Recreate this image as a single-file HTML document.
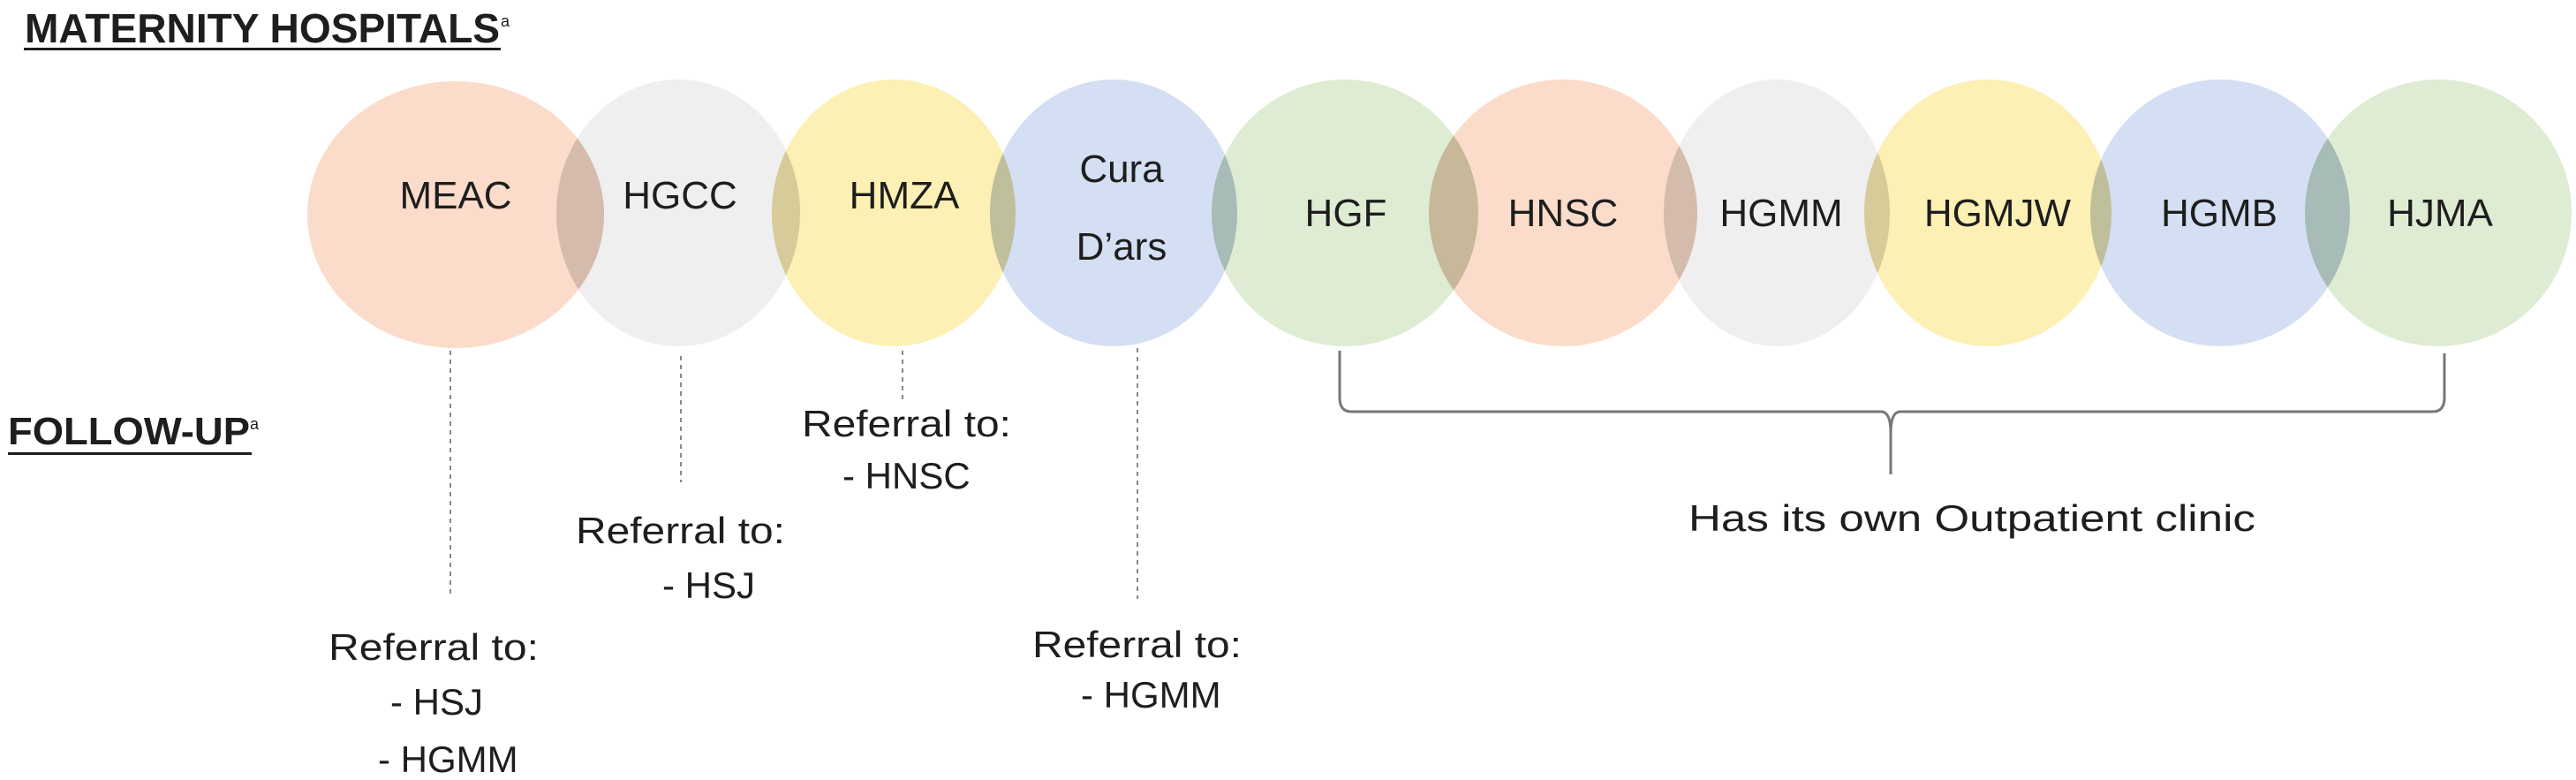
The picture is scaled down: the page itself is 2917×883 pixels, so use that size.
<!DOCTYPE html>
<html><head><meta charset="utf-8"><style>
html,body{margin:0;padding:0;background:#fff;}
svg{display:block;}
text{font-family:"Liberation Sans",sans-serif;fill:#1e1e1e;}
</style></head><body>
<svg width="2917" height="883" viewBox="0 0 2917 883" xmlns="http://www.w3.org/2000/svg">
<defs>
<clipPath id="c0"><ellipse cx="516" cy="243" rx="168" ry="151"/></clipPath>
<clipPath id="c1"><ellipse cx="768" cy="241" rx="138" ry="151"/></clipPath>
<clipPath id="c2"><ellipse cx="1012" cy="241" rx="138" ry="151"/></clipPath>
<clipPath id="c3"><ellipse cx="1261" cy="241" rx="140" ry="151"/></clipPath>
<clipPath id="c4"><ellipse cx="1523" cy="241" rx="151" ry="151"/></clipPath>
<clipPath id="c5"><ellipse cx="1770" cy="241" rx="152" ry="151"/></clipPath>
<clipPath id="c6"><ellipse cx="2012" cy="241" rx="128" ry="151"/></clipPath>
<clipPath id="c7"><ellipse cx="2251" cy="241" rx="140" ry="151"/></clipPath>
<clipPath id="c8"><ellipse cx="2514" cy="241" rx="147" ry="151"/></clipPath>
</defs>
<g style="mix-blend-mode:multiply">
<ellipse cx="516" cy="243" rx="168" ry="151" fill="#fbdccb" style="mix-blend-mode:multiply"/>
<ellipse cx="768" cy="241" rx="138" ry="151" fill="#efefef" style="mix-blend-mode:multiply"/>
<ellipse cx="1012" cy="241" rx="138" ry="151" fill="#fdf0b4" style="mix-blend-mode:multiply"/>
<ellipse cx="1261" cy="241" rx="140" ry="151" fill="#d4dff3" style="mix-blend-mode:multiply"/>
<ellipse cx="1523" cy="241" rx="151" ry="151" fill="#deecd4" style="mix-blend-mode:multiply"/>
<ellipse cx="1770" cy="241" rx="152" ry="151" fill="#fbdccb" style="mix-blend-mode:multiply"/>
<ellipse cx="2012" cy="241" rx="128" ry="151" fill="#efefef" style="mix-blend-mode:multiply"/>
<ellipse cx="2251" cy="241" rx="140" ry="151" fill="#fdf0b4" style="mix-blend-mode:multiply"/>
<ellipse cx="2514" cy="241" rx="147" ry="151" fill="#d4dff3" style="mix-blend-mode:multiply"/>
<ellipse cx="2761" cy="241" rx="151" ry="151" fill="#deecd4" style="mix-blend-mode:multiply"/>
</g>
<g fill="#000" fill-opacity="0.09">
<ellipse clip-path="url(#c0)" cx="768" cy="241" rx="138" ry="151"/>
<ellipse clip-path="url(#c1)" cx="1012" cy="241" rx="138" ry="151"/>
<ellipse clip-path="url(#c2)" cx="1261" cy="241" rx="140" ry="151"/>
<ellipse clip-path="url(#c3)" cx="1523" cy="241" rx="151" ry="151"/>
<ellipse clip-path="url(#c4)" cx="1770" cy="241" rx="152" ry="151"/>
<ellipse clip-path="url(#c5)" cx="2012" cy="241" rx="128" ry="151"/>
<ellipse clip-path="url(#c6)" cx="2251" cy="241" rx="140" ry="151"/>
<ellipse clip-path="url(#c7)" cx="2514" cy="241" rx="147" ry="151"/>
<ellipse clip-path="url(#c8)" cx="2761" cy="241" rx="151" ry="151"/>
</g>

<text x="28" y="48" font-size="46" font-weight="bold" textLength="538" lengthAdjust="spacingAndGlyphs">MATERNITY HOSPITALS</text>
<text x="567" y="30" font-size="18">a</text>
<rect x="27" y="54" width="540" height="3" fill="#1e1e1e"/>
<text x="9" y="503" font-size="44" font-weight="bold" textLength="274" lengthAdjust="spacingAndGlyphs">FOLLOW-UP</text>
<text x="283" y="486" font-size="18">a</text>
<rect x="9" y="512" width="276" height="3" fill="#1e1e1e"/>

<g font-size="44" text-anchor="middle">
<text x="516" y="236">MEAC</text>
<text x="770" y="236">HGCC</text>
<text x="1024" y="236">HMZA</text>
<text x="1270" y="206">Cura</text>
<text x="1270" y="294">D’ars</text>
<text x="1524" y="256">HGF</text>
<text x="1770" y="256">HNSC</text>
<text x="2017" y="256">HGMM</text>
<text x="2262" y="256">HGMJW</text>
<text x="2513" y="256">HGMB</text>
<text x="2763" y="256">HJMA</text>
</g>

<g stroke="#888" stroke-width="2" stroke-dasharray="5,5">
<line x1="510" y1="397" x2="510" y2="673"/>
<line x1="771" y1="403" x2="771" y2="546"/>
<line x1="1022" y1="397" x2="1022" y2="456"/>
<line x1="1288" y1="394" x2="1288" y2="678"/>
</g>

<g font-size="42">
<text x="908" y="494" textLength="237" lengthAdjust="spacingAndGlyphs">Referral to:</text>
<text x="954" y="553">- HNSC</text>
<text x="652" y="615" textLength="237" lengthAdjust="spacingAndGlyphs">Referral to:</text>
<text x="750" y="677">- HSJ</text>
<text x="372" y="747" textLength="238" lengthAdjust="spacingAndGlyphs">Referral to:</text>
<text x="442" y="809">- HSJ</text>
<text x="428" y="874">- HGMM</text>
<text x="1169" y="744" textLength="237" lengthAdjust="spacingAndGlyphs">Referral to:</text>
<text x="1224" y="801">- HGMM</text>
<text x="1912" y="601" textLength="642" lengthAdjust="spacingAndGlyphs">Has its own Outpatient clinic</text>
</g>

<path d="M1517,397 L1517,450 Q1517,466 1530,466 L2130,466 Q2141,466 2141,490 L2141,537 M2141,490 Q2141,466 2152,466 L2755,466 Q2768,466 2768,450 L2768,400" fill="none" stroke="#777" stroke-width="3"/>
</svg>
</body></html>
